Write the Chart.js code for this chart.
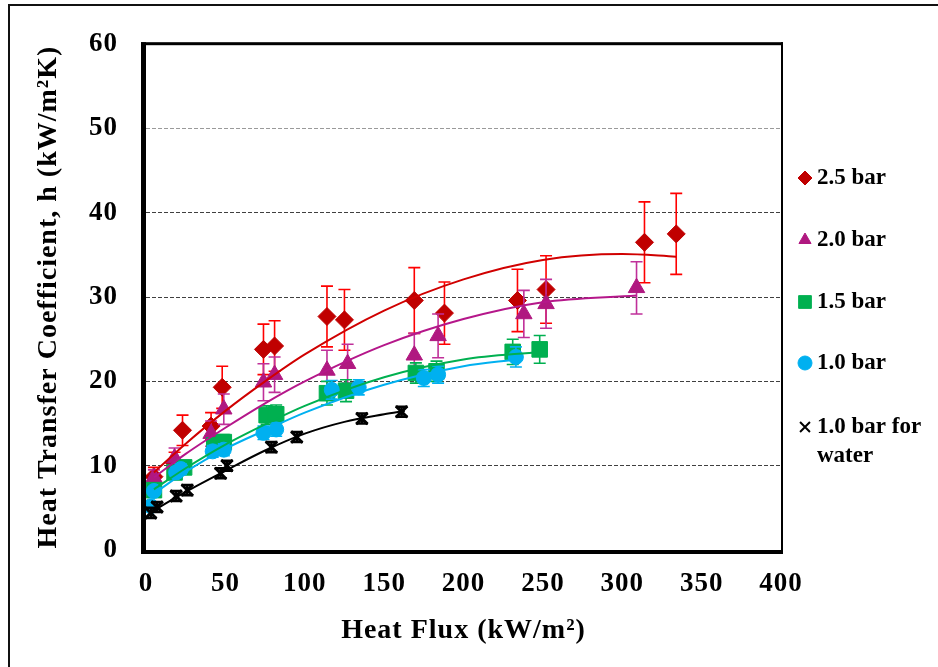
<!DOCTYPE html>
<html lang="en">

<head>
    <meta charset="UTF-8">
    <meta name="viewport" content="width=device-width, initial-scale=1.0">
    <script src="https://cdn.jsdelivr.net/npm/chart.js"></script>
    <title>Heat Transfer Coefficient vs Heat Flux</title>
    <style>
        body { margin: 0; background: #fff; }
        #wrap { position: relative; width: 938px; height: 667px; }
    </style>
</head>

<body>
    <div id="wrap">
        <canvas id="myChart"></canvas>
    </div>
</body>

<script>
    // measured points: heat flux (kW/m2), h (kW/m2K), error bar half-height
    const flux25 = [5, 18, 23, 41, 48, 74, 81, 114, 125, 169, 188, 234, 252, 314, 334];
    const htc25 = [8.7, 10.3, 14.2, 14.7, 19.3, 23.8, 24.2, 27.7, 27.3, 29.6, 28.1, 29.6, 30.9, 36.5, 37.5];
    const err25 = [1.1, 1.3, 1.8, 1.6, 2.5, 3.0, 3.0, 3.6, 3.6, 3.9, 3.7, 3.7, 4.0, 4.8, 4.8];

    const flux20 = [5, 18, 41, 49, 74, 81, 114, 127, 169, 184, 238, 252, 309];
    const htc20 = [8.6, 10.9, 13.8, 16.7, 19.9, 20.8, 21.3, 22.1, 23.1, 25.4, 28.0, 29.2, 31.1];
    const err20 = [0.9, 1.2, 1.5, 1.8, 2.2, 2.1, 2.4, 2.3, 2.6, 2.6, 2.8, 2.9, 3.1];

    const flux15 = [5, 18, 24, 43, 49, 76, 82, 114, 126, 170, 183, 231, 248];
    const htc15 = [7.1, 9.2, 9.8, 12.4, 12.8, 16.0, 16.1, 18.6, 18.9, 21.0, 21.2, 23.5, 23.8];
    const err15 = [0.5, 0.7, 0.7, 0.9, 0.9, 1.1, 1.1, 1.4, 1.3, 1.2, 1.2, 1.5, 1.65];

    const flux10 = [3, 5, 19, 22, 42, 49, 74, 82, 117, 134, 175, 184, 233];
    const htc10 = [5.2, 7.0, 9.2, 9.6, 11.7, 11.9, 13.9, 14.3, 19.0, 19.3, 20.4, 20.8, 22.9];
    const err10 = [0.4, 0.5, 0.6, 0.6, 0.7, 0.7, 0.8, 0.8, 1.1, 0.9, 1.0, 1.0, 1.2];

    const fluxW = [3, 7, 19, 26, 47, 51, 79, 95, 136, 161];
    const htcW = [4.4, 5.1, 6.4, 7.1, 9.1, 10.0, 12.2, 13.4, 15.6, 16.4];
    const errW = [0.6, 0.6, 0.6, 0.6, 0.6, 0.6, 0.6, 0.6, 0.6, 0.6];

    // trend lines
    const fitX25 = [5, 25, 50, 75, 100, 150, 200, 250, 300, 334];
    const fitY25 = [9.2, 12.6, 16.5, 20.0, 23.2, 28.4, 32.1, 34.4, 35.1, 34.8];
    const fitX20 = [5, 25, 50, 75, 100, 150, 200, 250, 309];
    const fitY20 = [8.6, 11.4, 14.5, 17.4, 20.0, 24.3, 27.4, 29.4, 30.2];
    const fitX15 = [5, 25, 50, 75, 100, 150, 200, 248];
    const fitY15 = [7.2, 9.7, 12.5, 14.9, 17.1, 20.5, 22.6, 23.5];
    const fitX10 = [5, 25, 50, 75, 100, 150, 200, 233];
    const fitY10 = [6.7, 9.3, 12.0, 14.2, 16.3, 19.6, 21.8, 22.6];
    const fitXW = [5, 25, 50, 75, 100, 125, 150, 163];
    const fitYW = [4.7, 6.9, 9.4, 11.8, 13.8, 15.2, 16.1, 16.5];

    const seriesLabels = ['2.5 bar', '2.0 bar', '1.5 bar', '1.0 bar', ['1.0 bar for', 'water']];

    const serif = '"Liberation Serif", "Times New Roman", serif';

    function pts(xs, ys) {
        return xs.map((x, i) => ({ x: x, y: ys[i] }));
    }

    function markers(label, xs, ys, errs, style, radius, color, errColor, order) {
        return {
            label: label,
            data: pts(xs, ys),
            errors: errs,
            errorColor: errColor,
            pointStyle: style,
            pointRadius: radius,
            pointBackgroundColor: color,
            pointBorderColor: color,
            pointBorderWidth: style === 'crossRot' ? 3 : 1,
            showLine: false,
            order: order
        };
    }

    function trend(xs, ys, color) {
        return {
            data: pts(xs, ys),
            showLine: true,
            borderColor: color,
            borderWidth: 2,
            pointRadius: 0,
            cubicInterpolationMode: 'monotone',
            order: 0
        };
    }

    // error bars drawn just before each marker series
    const errorBars = {
        id: 'errorBars',
        beforeDatasetDraw(chart, args) {
            const ds = chart.data.datasets[args.index];
            if (!ds.errors) return;
            const ctx = chart.ctx;
            const x = chart.scales.x, y = chart.scales.y;
            const black = ds.errorColor === '#000000';
            ctx.save();
            ctx.strokeStyle = ds.errorColor;
            ctx.lineWidth = black ? 2.5 : 1.6;
            ds.data.forEach((p, i) => {
                const px = x.getPixelForValue(p.x);
                const top = y.getPixelForValue(p.y + ds.errors[i]);
                const bot = y.getPixelForValue(p.y - ds.errors[i]);
                ctx.beginPath();
                ctx.moveTo(px, top); ctx.lineTo(px, bot);
                ctx.moveTo(px - 6, top); ctx.lineTo(px + 6, top);
                ctx.moveTo(px - 6, bot); ctx.lineTo(px + 6, bot);
                ctx.stroke();
            });
            ctx.restore();
        }
    };

    // thick plot frame + outer page border
    const frame = {
        id: 'frame',
        beforeDraw(chart) {
            const ctx = chart.ctx;
            ctx.save();
            ctx.fillStyle = '#111';
            ctx.fillRect(8, 4, 2, 667);
            ctx.fillRect(8, 4, 930, 2);
            ctx.restore();
            ctx.letterSpacing = '1px';
        },
        afterDatasetsDraw(chart) {
            const ctx = chart.ctx;
            const a = chart.chartArea;
            ctx.save();
            ctx.fillStyle = '#000';
            ctx.fillRect(a.left - 5, a.top - 2, a.right - a.left + 7, 3);
            ctx.fillRect(a.right, a.top - 2, 2, a.bottom - a.top + 6);
            ctx.fillRect(a.left - 5, a.top - 2, 5, a.bottom - a.top + 6);
            ctx.fillRect(a.left - 5, a.bottom, a.right - a.left + 7, 4);
            ctx.restore();
        },
        afterDraw(chart) {
            chart.ctx.letterSpacing = '0px';
        }
    };

    // legend on the right, with a two line last entry
    const sideLegend = {
        id: 'sideLegend',
        afterDraw(chart) {
            const ctx = chart.ctx;
            const rows = [178, 240, 302, 363, 427];
            ctx.save();
            ctx.font = 'bold 23px ' + serif;
            ctx.textBaseline = 'middle';
            ctx.textAlign = 'left';
            seriesLabels.forEach((label, i) => {
                const ds = chart.data.datasets[i];
                ctx.fillStyle = ds.pointBackgroundColor;
                ctx.strokeStyle = ds.pointBorderColor;
                ctx.lineWidth = ds.pointStyle === 'crossRot' ? 2 : 1;
                Chart.helpers.drawPoint(ctx, {
                    pointStyle: ds.pointStyle,
                    radius: ds.pointStyle === 'rect' ? 9 : 7,
                    rotation: 0,
                    borderWidth: 1
                }, 805, rows[i]);
                ctx.fillStyle = '#000';
                const lines = Array.isArray(label) ? label : [label];
                lines.forEach((t, j) => ctx.fillText(t, 817, rows[i] + j * 29));
            });
            ctx.restore();
        }
    };

    const ctx = document.getElementById('myChart').getContext('2d');
    const myChart = new Chart(ctx, {
        type: 'scatter',
        data: {
            datasets: [
                markers(seriesLabels[0], flux25, htc25, err25, 'rectRot', 9, '#C00000', '#FF0000', 5),
                markers(seriesLabels[1], flux20, htc20, err20, 'triangle', 9.5, '#B01880', '#C0309A', 4),
                markers(seriesLabels[2], flux15, htc15, err15, 'rect', 11, '#00B050', '#00B050', 3),
                markers(seriesLabels[3], flux10, htc10, err10, 'circle', 7.5, '#00B0F0', '#00B0F0', 2),
                markers(seriesLabels[4], fluxW, htcW, errW, 'crossRot', 8, '#000000', '#000000', 1),
                trend(fitX25, fitY25, '#D00000'),
                trend(fitX20, fitY20, '#B5178A'),
                trend(fitX15, fitY15, '#00B050'),
                trend(fitX10, fitY10, '#00B0F0'),
                trend(fitXW, fitYW, '#000000')
            ]
        },
        options: {
            responsive: true,
            maintainAspectRatio: false,
            animation: false,
            layout: { padding: { top: 34, right: 157, left: 0, bottom: 0 } },
            plugins: {
                legend: { display: false },
                tooltip: { enabled: false }
            },
            scales: {
                x: {
                    type: 'linear',
                    min: 0,
                    max: 400,
                    afterFit: (scale) => { scale.height = 117; },
                    grid: { display: false },
                    border: { display: false },
                    ticks: {
                        stepSize: 50,
                        padding: 10,
                        color: '#000',
                        maxRotation: 0,
                        font: { family: serif, size: 27, weight: 'bold' }
                    },
                    title: {
                        display: true,
                        text: 'Heat Flux (kW/m²)',
                        color: '#000',
                        padding: { bottom: 19 },
                        font: { family: serif, size: 28, weight: 'bold' }
                    }
                },
                y: {
                    min: 0,
                    max: 60,
                    afterFit: (scale) => { scale.width = 146; },
                    grid: {
                        drawTicks: false,
                        lineWidth: 1,
                        color: (c) => {
                            const v = c.tick.value;
                            if (v === 0 || v === 60) return 'rgba(0,0,0,0)';
                            return v === 50 ? '#9a9a9a' : '#404040';
                        }
                    },
                    border: { display: false, dash: [4, 2] },
                    ticks: {
                        stepSize: 10,
                        padding: 28,
                        color: '#000',
                        font: { family: serif, size: 27, weight: 'bold' }
                    },
                    title: {
                        display: true,
                        text: 'Heat Transfer Coefficient, h (kW/m²K)',
                        color: '#000',
                        padding: { top: 32 },
                        font: { family: serif, size: 28, weight: 'bold' }
                    }
                }
            }
        },
        plugins: [errorBars, frame, sideLegend]
    });
</script>

</html>
